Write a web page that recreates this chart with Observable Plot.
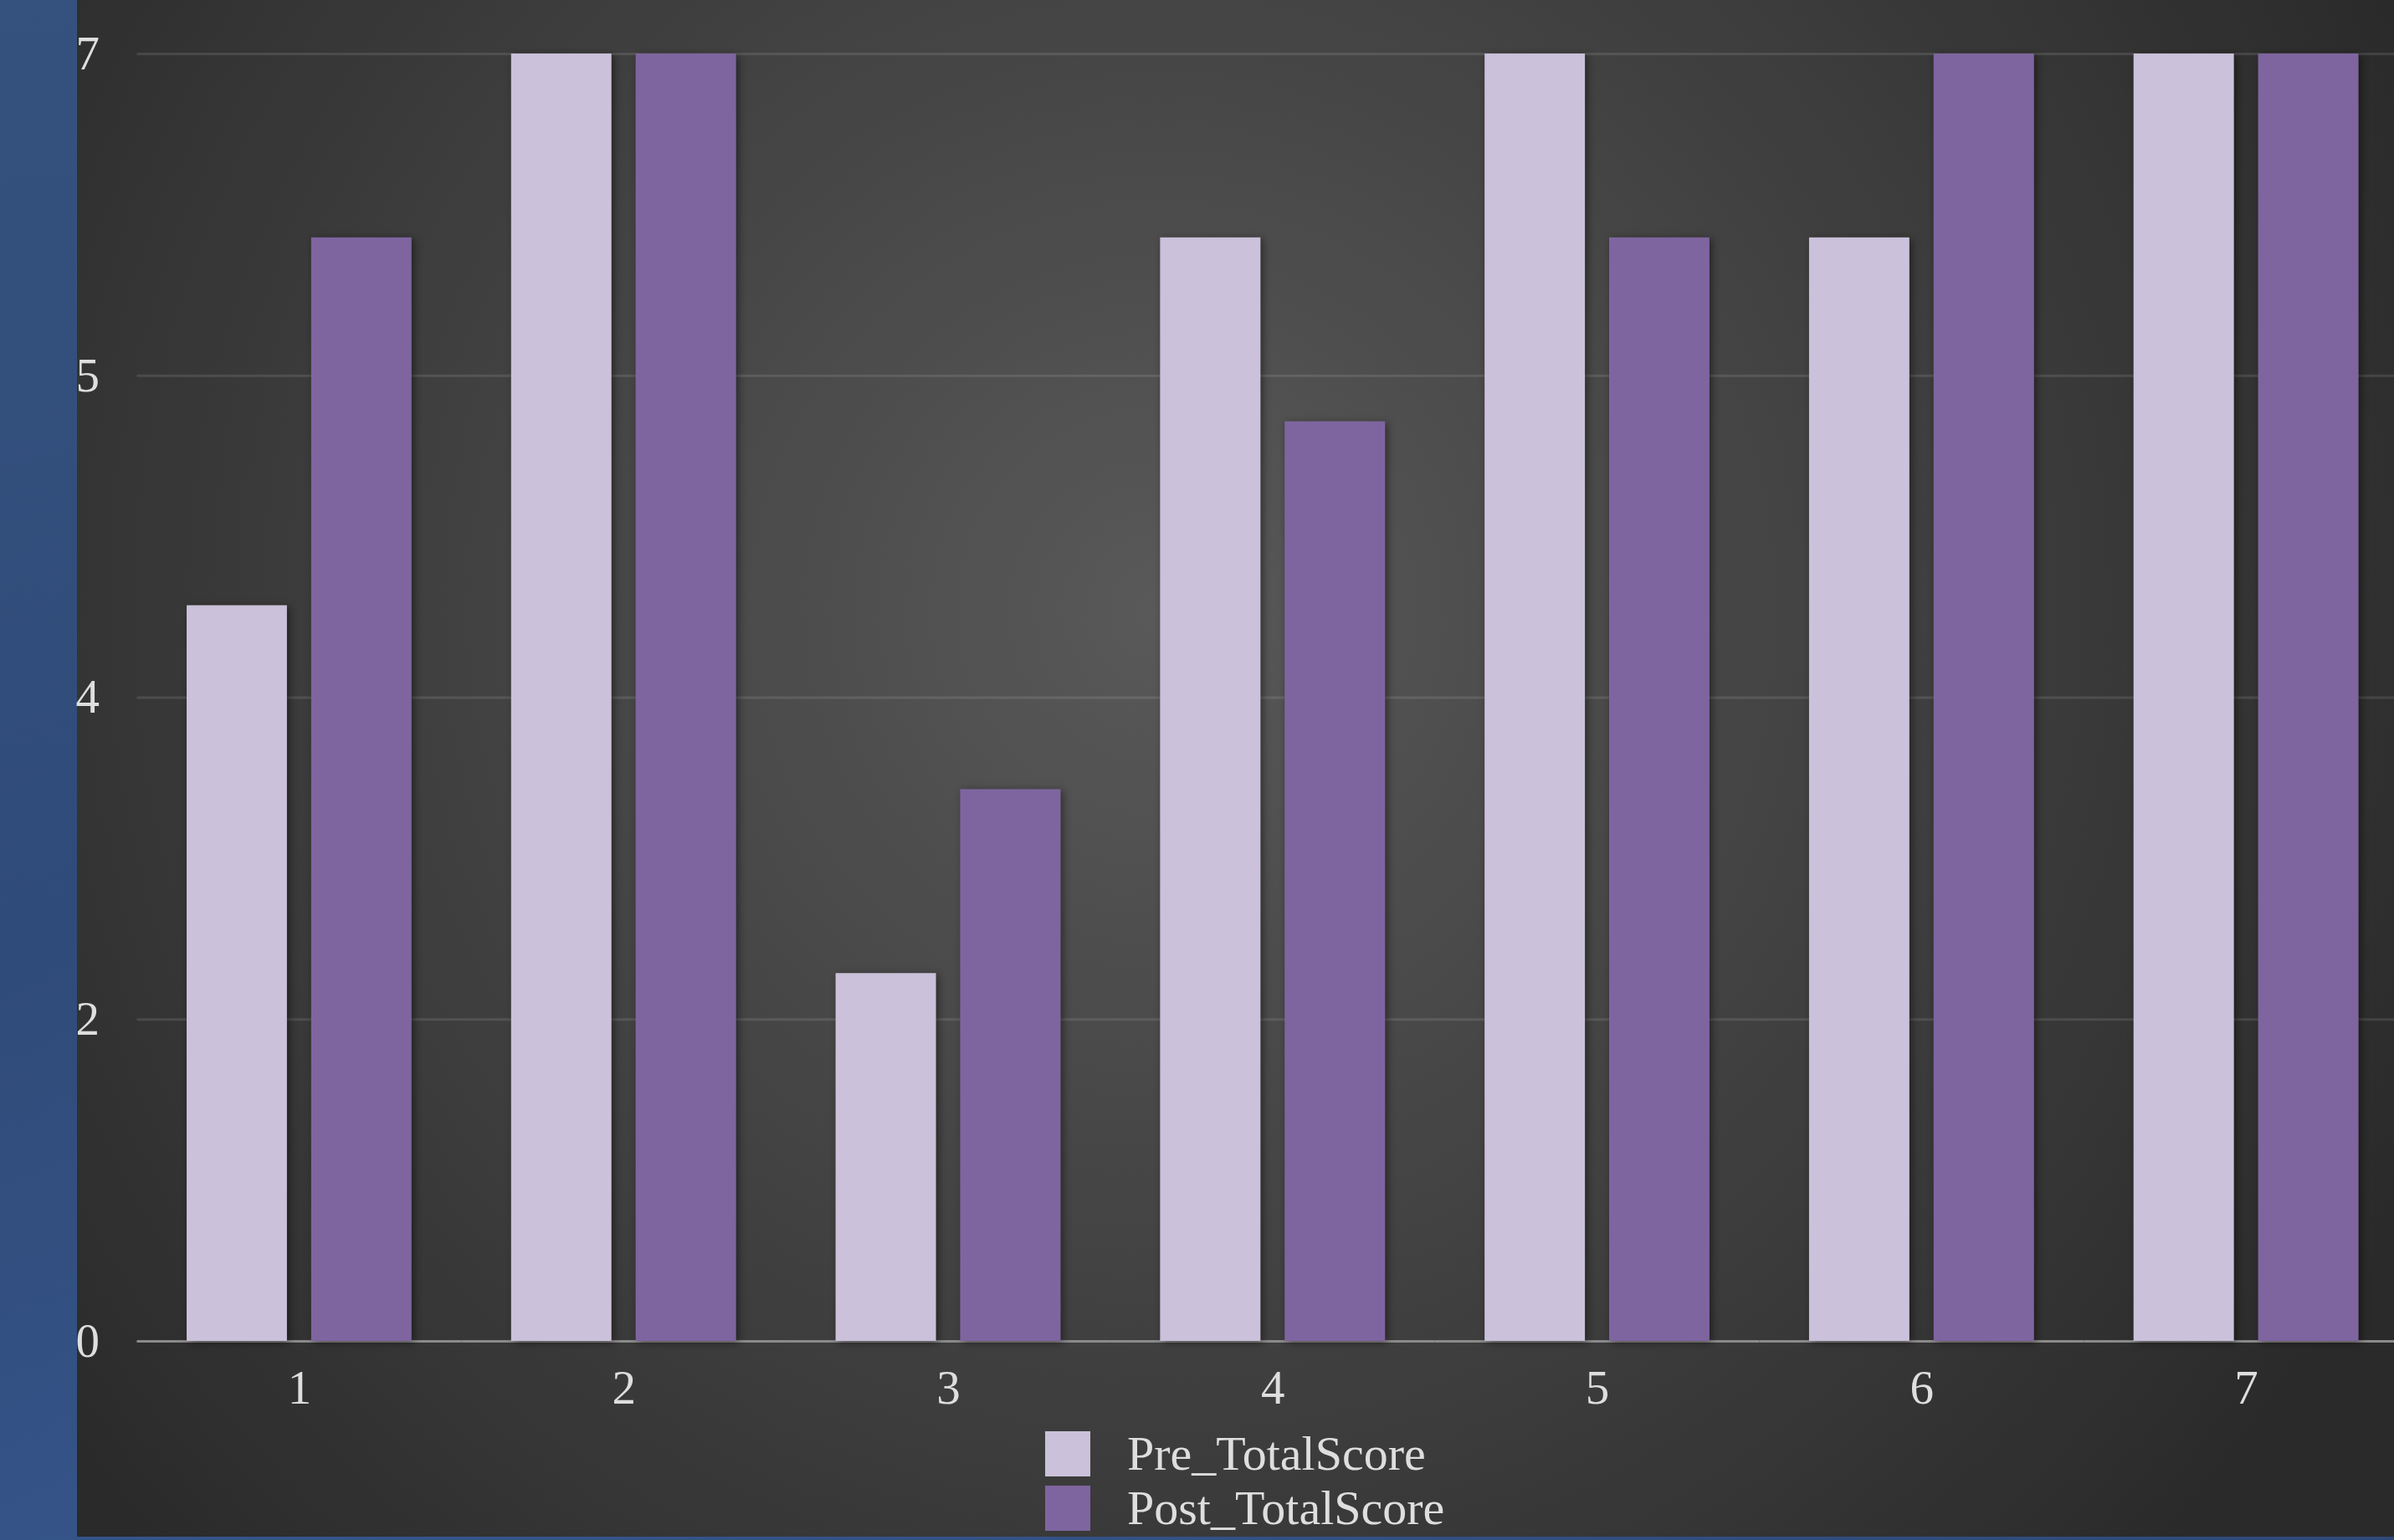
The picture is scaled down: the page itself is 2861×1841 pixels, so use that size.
<!DOCTYPE html>
<html>
<head>
<meta charset="utf-8">
<script src="https://cdn.jsdelivr.net/npm/d3@7"></script>
<script src="https://cdn.jsdelivr.net/npm/@observablehq/plot@0.6"></script>
<style>
  html, body { margin: 0; padding: 0; width: 2861px; height: 1841px; overflow: hidden; }
  body {
    position: relative;
    background: linear-gradient(160deg, #35527f 0%, #2f4b79 40%, #36558a 70%, #2f4a78 100%);
    font-family: "Liberation Serif", "Times New Roman", serif;
  }
  #panel {
    position: absolute; left: 92px; top: 0; width: 2769px; height: 1837px;
    background: radial-gradient(circle 1650px at 1295px 730px, #595959 0%, #2a2a2a 100%);
  }
  #chart { position: absolute; left: 0; top: 0; width: 2900px; }
  #chart svg { max-width: none !important; }
  #legend {
    position: absolute; left: 1249px; top: 1705px;
    color: #dedede; font-size: 58px; line-height: 65px;
    font-family: "Liberation Serif", "Times New Roman", serif;
  }
  .row { display: flex; align-items: center; height: 65px; }
  .sw { width: 54px; height: 54px; margin-right: 44px; }
</style>
</head>
<body>
<div id="panel"></div>
<div id="chart"></div>
<div id="legend"></div>
<script>
// ---- data ----
const groups = [1, 2, 3, 4, 5, 6, 7];
const seriesNames = ["Pre_TotalScore", "Post_TotalScore"];
const preScores = [4, 7, 2, 6, 7, 6, 7];
const postScores = [6, 7, 3, 5, 6, 7, 7];
const seriesColors = ["#cbc1da", "#7f65a0"];
const yTickValues = [0, 1.75, 3.5, 5.25, 7];
const yTickLabels = ["0", "2", "4", "5", "7"];

const rows = [];
groups.forEach((g, i) => {
  rows.push({group: g, series: seriesNames[0], value: preScores[i]});
  rows.push({group: g, series: seriesNames[1], value: postScores[i]});
});

const chart = Plot.plot({
  width: 2900,
  height: 1841,
  marginLeft: 163.5,
  marginRight: 22,
  marginTop: 64,
  marginBottom: 238,
  style: {
    background: "transparent",
    color: "#dedede",
    fontFamily: "'Liberation Serif', 'Times New Roman', serif",
    fontSize: "57px",
    overflow: "visible",
    maxWidth: "none"
  },
  fx: {
    domain: groups, paddingInner: 0, paddingOuter: 0, round: false,
    label: null, tickSize: 0, tickPadding: 34, axis: "bottom"
  },
  x: {
    domain: seriesNames, paddingInner: 0.195, paddingOuter: 0.4, round: false, axis: null
  },
  y: {
    domain: [0, 7], nice: false, label: null,
    ticks: yTickValues,
    tickFormat: d => yTickLabels[yTickValues.indexOf(d)],
    tickSize: 0, tickPadding: 45
  },
  color: { domain: seriesNames, range: seriesColors },
  marks: [
    Plot.gridY(yTickValues.slice(1), {stroke: "white", strokeOpacity: 0.11, strokeWidth: 3}),
    Plot.ruleY([0], {stroke: "#8a8a8a", strokeWidth: 3}),
    Plot.barY(rows, {fx: "group", x: "series", y: "value", fill: "series"})
  ]
});

document.getElementById("chart").appendChild(chart);

// drop shadow on bars
const svg = d3.select(chart);
const defs = svg.insert("defs", ":first-child");
const f = defs.append("filter").attr("id", "shadow")
  .attr("x", "-20%").attr("y", "-5%").attr("width", "140%").attr("height", "110%");
f.append("feDropShadow").attr("dx", 3).attr("dy", 2).attr("stdDeviation", 5)
  .attr("flood-color", "#000").attr("flood-opacity", 0.45);
svg.selectAll('g[aria-label="bar"]').attr("filter", "url(#shadow)");

// legend
const legend = d3.select("#legend");
seriesNames.forEach((name, i) => {
  const r = legend.append("div").attr("class", "row");
  r.append("div").attr("class", "sw").style("background", seriesColors[i]);
  r.append("span").text(name);
});
</script>
</body>
</html>
